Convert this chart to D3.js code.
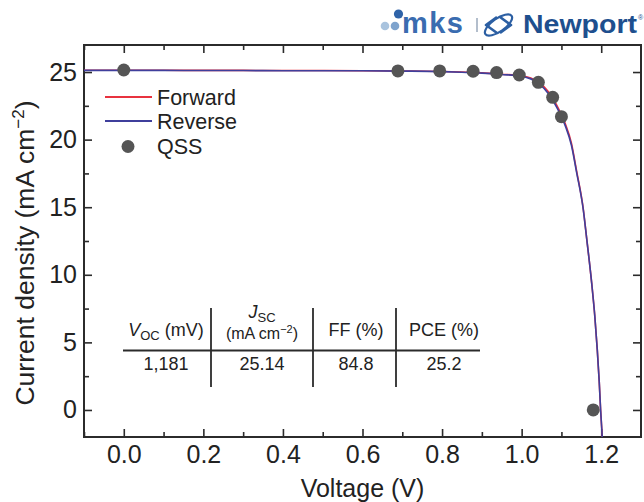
<!DOCTYPE html>
<html>
<head>
<meta charset="utf-8">
<script src="https://cdn.jsdelivr.net/npm/d3@7"></script>
<style>
  html, body { margin: 0; padding: 0; background: #fff; }
  svg { display: block; font-family: "Liberation Sans", Arial, Helvetica, sans-serif; }
</style>
</head>
<body>
<svg id="chart" width="644" height="502"></svg>
<script>
// ---------------- data ----------------
const voltage  = [-0.1, 0.0, 0.1, 0.2, 0.3, 0.4, 0.5, 0.6, 0.7, 0.8, 0.85, 0.9, 0.95, 1.0, 1.04, 1.07, 1.09, 1.10, 1.11, 1.125, 1.138, 1.155, 1.163, 1.176, 1.184, 1.19, 1.195, 1.1985, 1.2026];
const forwardJ = [25.13, 25.13, 25.13, 25.12, 25.12, 25.11, 25.11, 25.10, 25.08, 25.04, 25.00, 24.94, 24.84, 24.72, 24.30, 23.45, 22.45, 21.85, 21.15, 19.75, 17.7, 14.85, 12.8, 9.4, 6.9, 4.5, 2.1, 0.0, -2.0];
const reverseJ = [25.12, 25.12, 25.12, 25.11, 25.11, 25.10, 25.10, 25.09, 25.07, 25.03, 24.98, 24.92, 24.82, 24.68, 24.22, 23.30, 22.30, 21.70, 21.00, 19.60, 17.6, 14.8, 12.8, 9.4, 6.9, 4.5, 2.1, 0.0, -2.0];
const qssV = [0.0, 0.689, 0.794, 0.878, 0.937, 0.994, 1.042, 1.078, 1.100, 1.180];
const qssJ = [25.15, 25.08, 25.08, 25.06, 24.96, 24.78, 24.24, 23.13, 21.70, 0.0];
const xTickValues = [0.0, 0.2, 0.4, 0.6, 0.8, 1.0, 1.2];
const xMinorTicks = [-0.1, 0.1, 0.3, 0.5, 0.7, 0.9, 1.1];
const yTickValues = [0, 5, 10, 15, 20, 25];
const yMinorTicks = [2.5, 7.5, 12.5, 17.5, 22.5];
const legendLabels = ["Forward", "Reverse", "QSS"];
const tableValues = ["1,181", "25.14", "84.8", "25.2"];

// ---------------- layout ----------------
const svg = d3.select("#chart");
const L = 84, R = 641, T = 45, B = 437;
const x = d3.scaleLinear().domain([-0.1, 1.3]).range([L, R]);
const y = d3.scaleLinear().domain([-2, 27]).range([B, T]);
const ink = "#2b2b2b";
const red = "#e8323f", blue = "#3f3f9c", dotCol = "#555555";

svg.append("defs").append("clipPath").attr("id", "clip")
  .append("rect").attr("x", L).attr("y", T).attr("width", R - L).attr("height", B - T);

// ---------------- axes ----------------
function styleAxis(g, fs) {
  g.select(".domain").remove();
  g.selectAll(".tick line").attr("stroke", ink).attr("stroke-width", 1.6);
  g.selectAll(".tick text").attr("fill", "#222").style("font-size", fs + "px");
}
svg.append("g").attr("transform", `translate(0,${B})`)
  .call(d3.axisBottom(x).tickValues(xTickValues).tickFormat(d3.format(".1f")).tickSize(-8).tickPadding(8))
  .call(g => styleAxis(g, 25));
svg.append("g").attr("transform", `translate(0,${B})`)
  .call(d3.axisBottom(x).tickValues(xMinorTicks).tickFormat("").tickSize(-5))
  .call(g => styleAxis(g, 25));
svg.append("g").attr("transform", `translate(0,${T})`)
  .call(d3.axisTop(x).tickValues(xTickValues).tickFormat("").tickSize(-8))
  .call(g => styleAxis(g, 25));
svg.append("g").attr("transform", `translate(0,${T})`)
  .call(d3.axisTop(x).tickValues(xMinorTicks).tickFormat("").tickSize(-5))
  .call(g => styleAxis(g, 25));
svg.append("g").attr("transform", `translate(${L},0)`)
  .call(d3.axisLeft(y).tickValues(yTickValues).tickSize(-8).tickPadding(7))
  .call(g => styleAxis(g, 25));
svg.append("g").attr("transform", `translate(${L},0)`)
  .call(d3.axisLeft(y).tickValues(yMinorTicks).tickFormat("").tickSize(-5))
  .call(g => styleAxis(g, 25));
svg.append("g").attr("transform", `translate(${R},0)`)
  .call(d3.axisRight(y).tickValues(yTickValues).tickFormat("").tickSize(-8))
  .call(g => styleAxis(g, 25));
svg.append("g").attr("transform", `translate(${R},0)`)
  .call(d3.axisRight(y).tickValues(yMinorTicks).tickFormat("").tickSize(-5))
  .call(g => styleAxis(g, 25));

svg.append("rect").attr("x", L).attr("y", T).attr("width", R - L).attr("height", B - T)
  .attr("fill", "none").attr("stroke", ink).attr("stroke-width", 2);

// axis titles
svg.append("text").attr("x", (L + R) / 2).attr("y", 497).attr("text-anchor", "middle")
  .attr("fill", "#222").style("font-size", "25px").text("Voltage (V)");
const yt = svg.append("text").attr("transform", `translate(34,${(T + B) / 2 + 12}) rotate(-90)`)
  .attr("text-anchor", "middle").attr("fill", "#222").style("font-size", "26.5px");
yt.append("tspan").text("Current density (mA cm");
yt.append("tspan").attr("dy", -10).style("font-size", "17px").text("\u22122");
yt.append("tspan").attr("dy", 10).text(")");

// ---------------- curves ----------------
const plot = svg.append("g").attr("clip-path", "url(#clip)");
const line = arr => d3.line().x((d, i) => x(voltage[i])).y((d, i) => y(arr[i])).curve(d3.curveMonotoneX)(arr);
plot.append("path").attr("d", line(forwardJ)).attr("fill", "none").attr("stroke", red).attr("stroke-width", 1.6);
plot.append("path").attr("d", line(reverseJ)).attr("fill", "none").attr("stroke", blue).attr("stroke-width", 1.6);
plot.selectAll("circle.qss").data(qssV).join("circle").attr("class", "qss")
  .attr("cx", d => x(d)).attr("cy", (d, i) => y(qssJ[i])).attr("r", 6.5).attr("fill", dotCol);

// ---------------- legend ----------------
const lg = svg.append("g");
const lgY = [97, 121, 146.5];
lg.append("line").attr("x1", 105).attr("x2", 152).attr("y1", lgY[0]).attr("y2", lgY[0]).attr("stroke", red).attr("stroke-width", 1.8);
lg.append("line").attr("x1", 105).attr("x2", 152).attr("y1", lgY[1]).attr("y2", lgY[1]).attr("stroke", blue).attr("stroke-width", 1.8);
lg.append("circle").attr("cx", 128).attr("cy", lgY[2]).attr("r", 6.5).attr("fill", dotCol);
legendLabels.forEach((t, i) => {
  lg.append("text").attr("x", 157).attr("y", lgY[i]).attr("dy", "0.36em")
    .attr("fill", "#222").style("font-size", "21.5px").text(t);
});

// ---------------- table ----------------
const tb = svg.append("g").attr("fill", "#222").style("font-size", "18px");
tb.append("line").attr("x1", 123).attr("x2", 480).attr("y1", 350.5).attr("y2", 350.5).attr("stroke", ink).attr("stroke-width", 2);
[211, 313, 396].forEach(xx => tb.append("line").attr("x1", xx).attr("x2", xx).attr("y1", 308).attr("y2", 387).attr("stroke", ink).attr("stroke-width", 1.8));
const colX = [166, 262, 356, 444];
const h1 = tb.append("text").attr("x", colX[0]).attr("y", 336).attr("text-anchor", "middle");
h1.append("tspan").style("font-style", "italic").text("V");
h1.append("tspan").attr("dy", 4).style("font-size", "13px").text("OC");
h1.append("tspan").attr("dy", -4).text(" (mV)");
const h2 = tb.append("text").attr("x", colX[1]).attr("y", 318).attr("text-anchor", "middle");
h2.append("tspan").style("font-style", "italic").text("J");
h2.append("tspan").attr("dy", 4).style("font-size", "13px").text("SC");
const h2b = tb.append("text").attr("x", colX[1]).attr("y", 339).attr("text-anchor", "middle").style("font-size", "16px");
h2b.append("tspan").text("(mA cm");
h2b.append("tspan").attr("dy", -6).style("font-size", "11px").text("\u22122");
h2b.append("tspan").attr("dy", 6).text(")");
tb.append("text").attr("x", colX[2]).attr("y", 336).attr("text-anchor", "middle").text("FF (%)");
tb.append("text").attr("x", colX[3]).attr("y", 336).attr("text-anchor", "middle").text("PCE (%)");
tableValues.forEach((v, i) => tb.append("text").attr("x", colX[i]).attr("y", 370).attr("text-anchor", "middle").text(v));

// ---------------- logo ----------------
const lo = svg.append("g");
lo.append("circle").attr("cx", 385).attr("cy", 26).attr("r", 4.3).attr("fill", "#a9c3de");
lo.append("circle").attr("cx", 395).attr("cy", 26).attr("r", 4.3).attr("fill", "#7ea3cd");
lo.append("circle").attr("cx", 398.5).attr("cy", 14).attr("r", 4.6).attr("fill", "#2f63a8");
lo.append("text").attr("x", 402).attr("y", 33).attr("fill", "#3a6cb0").style("font-size", "29px")
  .style("font-weight", "bold").attr("textLength", 61).text("mks");
lo.append("line").attr("x1", 477).attr("x2", 477).attr("y1", 18).attr("y2", 32).attr("stroke", "#9aa9bb").attr("stroke-width", 1.5);
lo.append("path").attr("d", "M497,17 L486,25 L497,33 M500,17 L511,25 L500,33")
  .attr("fill", "none").attr("stroke", "#2c5fa3").attr("stroke-width", 2.6).attr("stroke-linejoin", "round");
lo.append("ellipse").attr("cx", 498.5).attr("cy", 25).attr("rx", 16).attr("ry", 6.5).attr("transform", "rotate(-35,498.5,25)")
  .attr("fill", "none").attr("stroke", "#2c5fa3").attr("stroke-width", 2.2);
lo.append("text").attr("x", 523).attr("y", 33).attr("fill", "#1e4f8e").style("font-size", "26px")
  .style("font-weight", "bold").attr("textLength", 114).attr("lengthAdjust", "spacingAndGlyphs").text("Newport");
lo.append("text").attr("x", 638).attr("y", 20).attr("fill", "#1e4f8e").style("font-size", "7px").text("\u00AE");
</script>
</body>
</html>
